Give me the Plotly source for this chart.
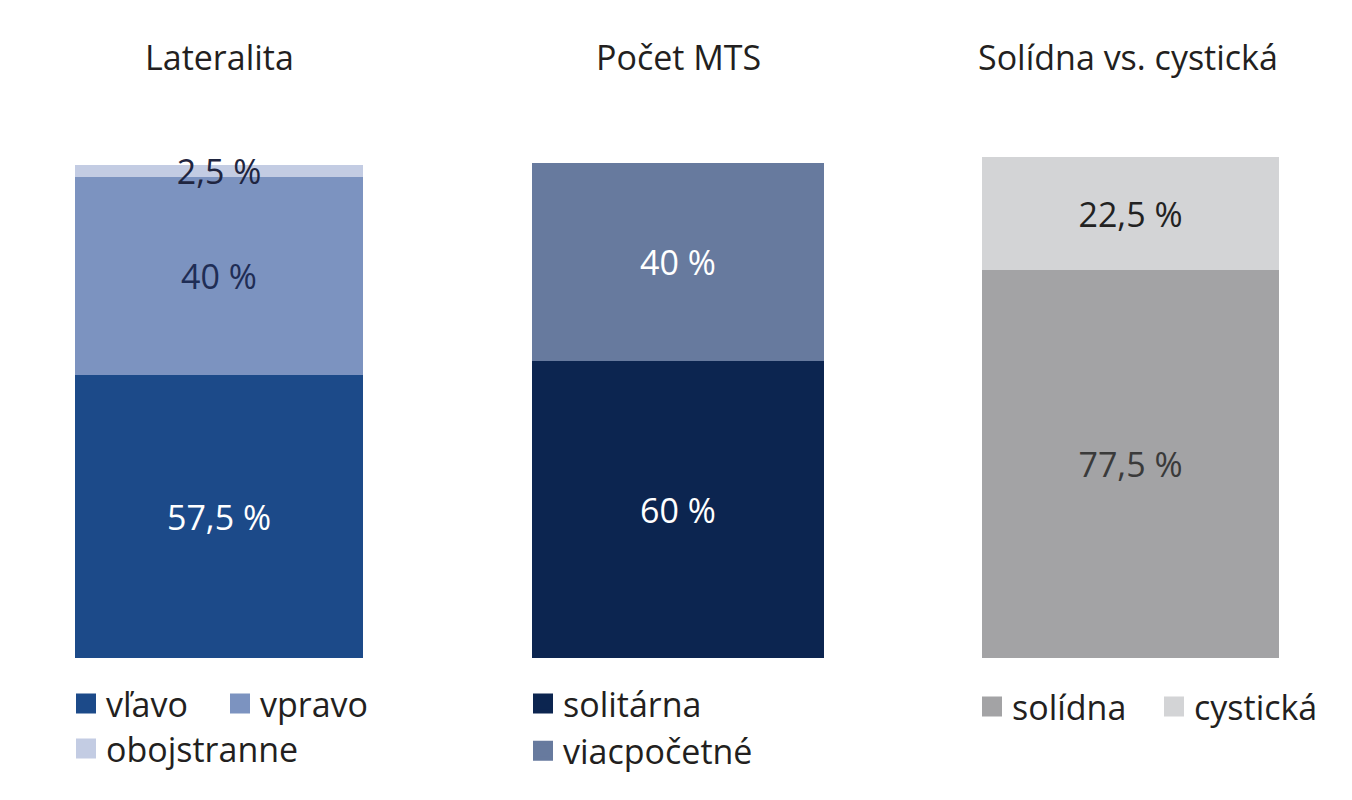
import plotly.graph_objects as go

# údaje z grafu (percentá)
lateralita_labels = ["vľavo", "vpravo", "obojstranne"]
lateralita_values = [57.5, 40, 2.5]
lateralita_colors = ["#1C4A89", "#7C93C0", "#C3CCE3"]
lateralita_text_colors = ["#FFFFFF", "#1F2D55", "#1F2540"]

pocet_labels = ["solitárna", "viacpočetné"]
pocet_values = [60, 40]
pocet_colors = ["#0C2550", "#677A9E"]
pocet_text_colors = ["#FFFFFF", "#FFFFFF"]

solidna_labels = ["solídna", "cystická"]
solidna_values = [77.5, 22.5]
solidna_colors = ["#A3A3A5", "#D3D4D6"]
solidna_text_colors = ["#3A3A3A", "#222222"]

panel_titles = ["Lateralita", "Počet MTS", "Solídna vs. cystická"]

FONT = "Open Sans"
FS = 34
W, H = 1352, 800
OFF = 8  # okraj stránky v prehliadači


def pct(v):
    return f"{v:g}".replace(".", ",") + " %"


def px_x(p):
    return (p - OFF) / W


def px_y(p):
    return 1 - (p - OFF) / H


fig = go.Figure()

panels = [
    (lateralita_labels, lateralita_values, lateralita_colors, lateralita_text_colors, "x", "y",
     ["legend", "legend", "legend2"]),
    (pocet_labels, pocet_values, pocet_colors, pocet_text_colors, "x2", "y2",
     ["legend3", "legend3"]),
    (solidna_labels, solidna_values, solidna_colors, solidna_text_colors, "x3", "y3",
     ["legend4", "legend4"]),
]

for i, (labels, values, colors, tcolors, xa, ya, legs) in enumerate(panels):
    for lab, val, col, tcol, leg in zip(labels, values, colors, tcolors, legs):
        fig.add_trace(go.Bar(
            x=[panel_titles[i]], y=[val], name=lab,
            marker=dict(color=col, line=dict(width=0)),
            text=[pct(val)], textposition="inside", insidetextanchor="middle",
            constraintext="none", cliponaxis=False,
            textfont=dict(family=FONT, size=FS, color=tcol),
            xaxis=xa, yaxis=ya, showlegend=False, hoverinfo="skip",
        ))
        # väčšie štvorčeky v legende
        fig.add_trace(go.Scatter(
            x=[None], y=[None], mode="markers", name=lab,
            marker=dict(symbol="square", size=16, color=col, line=dict(width=4, color=col)),
            xaxis=xa, yaxis=ya, legend=leg, showlegend=True,
        ))

x_domains = [[px_x(75), px_x(363)], [px_x(532), px_x(824)], [px_x(982), px_x(1279)]]
y_tops = [px_y(165), px_y(163), px_y(157)]
y_bottom = px_y(658)

axis_style = dict(visible=False, showgrid=False, zeroline=False, fixedrange=True)
for i, suffix in enumerate(["", "2", "3"]):
    fig.layout["xaxis" + suffix] = dict(domain=x_domains[i], anchor="y" + suffix, **axis_style)
    fig.layout["yaxis" + suffix] = dict(domain=[y_bottom, y_tops[i]], range=[0, 100],
                                        anchor="x" + suffix, **axis_style)

title_x = [219, 678, 1128]
for i, t in enumerate(panel_titles):
    fig.add_annotation(text=t, xref="paper", yref="paper",
                       x=px_x(title_x[i]), y=px_y(57), xanchor="center", yanchor="middle",
                       showarrow=False, font=dict(family=FONT, size=FS, color="#231F20"))

leg_common = dict(font=dict(family=FONT, size=FS, color="#231F20"), bgcolor="rgba(0,0,0,0)",
                  traceorder="normal", xanchor="left", yanchor="top", itemclick=False,
                  itemdoubleclick=False)
fig.update_layout(
    width=W, height=H,
    margin=dict(l=0, r=0, t=0, b=0),
    paper_bgcolor="white", plot_bgcolor="white",
    barmode="stack", bargap=0,
    legend=dict(orientation="h", x=px_x(66), y=px_y(675), entrywidth=109, **leg_common),
    legend2=dict(orientation="v", x=px_x(66), y=px_y(720), **leg_common),
    legend3=dict(orientation="v", x=px_x(523), y=px_y(675), **leg_common),
    legend4=dict(orientation="h", x=px_x(972), y=px_y(678), entrywidth=137, **leg_common),
)

fig.write_html("out.html")
